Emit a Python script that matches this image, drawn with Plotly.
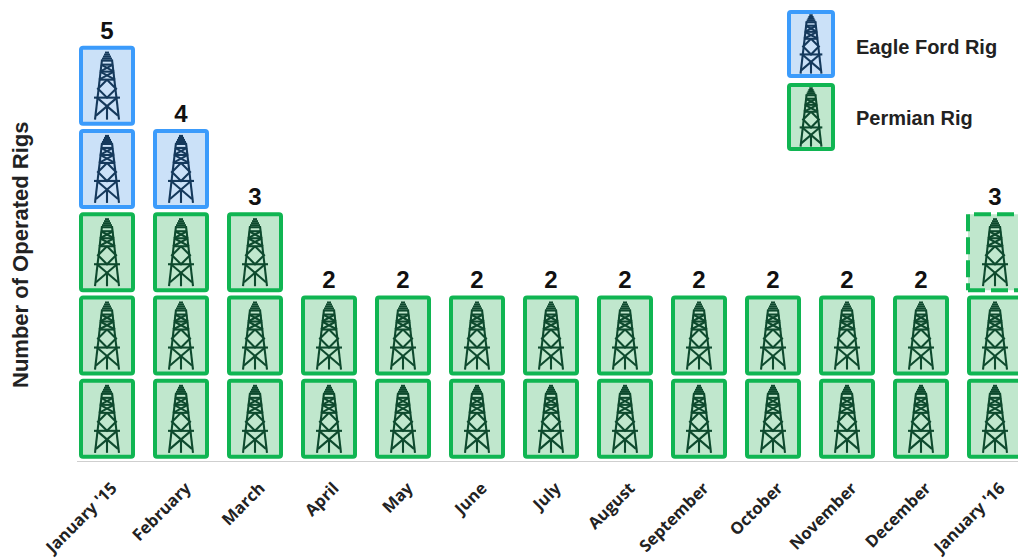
import plotly.graph_objects as go

months = ["January '15", "February", "March", "April", "May", "June", "July",
          "August", "September", "October", "November", "December", "January '16"]
permian_rigs = [3, 3, 3, 2, 2, 2, 2, 2, 2, 2, 2, 2, 2]
eagle_ford_rigs = [2, 1, 0, 0, 0, 0, 0, 0, 0, 0, 0, 0, 0]
projected_permian_rigs = [0, 0, 0, 0, 0, 0, 0, 0, 0, 0, 0, 0, 1]
legend_names = ["Eagle Ford Rig", "Permian Rig"]

BLUE, BLUE_FILL, BLUE_ICON = "#3b9bfb", "#cbe1f8", "#15395c"
GREEN, GREEN_FILL, GREEN_ICON = "#10b552", "#c0e7cd", "#0e4a2e"

PX_X, PX_Y = 74.0, 83.3
BOX_W, BOX_H, BOX_GAP = 52 / PX_X, 76 / PX_Y, 0.05

# derrick drawn as polylines: offsets from the box centre, in pixels, y downwards
DERRICK = [
    [(-2, -33), (2, -33)], [(-3, -31), (3, -31)], [(-4, -29), (4, -29)],
    [(-5, -27), (5, -27)], [(-6, -25), (6, -25)],
    [(-5, -26), (-12, 34)], [(5, -26), (12, 34)],
    [(-6, -21), (6, -21)], [(-7, -14), (7, -14)], [(-8, -6), (8, -6)],
    [(-6, -21), (7, -14)], [(6, -21), (-7, -14)],
    [(-7, -14), (8, -6)], [(7, -14), (-8, -6)],
    [(-13, 12), (13, 12)],
    [(0, -6), (9, 3), (0, 12), (-9, 3), (0, -6)],
    [(-10, 12), (11, 30)], [(10, 12), (-11, 30)], [(0, 20), (0, 34)],
]


def derrick_xy(cx, cy, scale=1.0):
    xs, ys = [], []
    for seg in DERRICK:
        for dx, dy in seg:
            xs.append(cx + dx * scale / PX_X)
            ys.append(cy - dy * scale / PX_Y)
        xs.append(None)
        ys.append(None)
    return xs, ys


fig = go.Figure()
permian_x, permian_base, eagle_x, eagle_base = [], [], [], []
icons = {GREEN_ICON: ([], []), BLUE_ICON: ([], [])}


def add_icon(color, cx, cy, scale=1.0):
    xs, ys = derrick_xy(cx, cy, scale)
    icons[color][0].extend(xs)
    icons[color][1].extend(ys)


for i, (p, e, d) in enumerate(zip(permian_rigs, eagle_ford_rigs, projected_permian_rigs)):
    for level in range(p):
        permian_x.append(i)
        permian_base.append(level + BOX_GAP)
        add_icon(GREEN_ICON, i, level + BOX_GAP + BOX_H / 2)
    for level in range(p, p + e):
        eagle_x.append(i)
        eagle_base.append(level + BOX_GAP)
        add_icon(BLUE_ICON, i, level + BOX_GAP + BOX_H / 2)
    for level in range(p + e, p + e + d):
        x0, x1 = i - 54 / PX_X / 2, i + 54 / PX_X / 2
        y0, y1 = level + BOX_GAP, level + BOX_GAP + BOX_H
        fig.add_trace(go.Scatter(
            x=[x0, x1, x1, x0, x0], y=[y0, y0, y1, y1, y0], mode="lines",
            fill="toself", fillcolor=GREEN_FILL,
            line=dict(color=GREEN, width=4, dash="17px,6px"),
            showlegend=False, hoverinfo="skip"))
        add_icon(GREEN_ICON, i, level + BOX_GAP + BOX_H / 2)


def add_boxes(xs, bases, fill, edge, w=BOX_W, h=BOX_H):
    fig.add_trace(go.Bar(
        x=xs, y=[h] * len(xs), base=bases, width=w,
        marker=dict(color=fill, line=dict(color=edge, width=4), cornerradius=2),
        showlegend=False, hoverinfo="skip"))


add_boxes(permian_x, permian_base, GREEN_FILL, GREEN)
add_boxes(eagle_x, eagle_base, BLUE_FILL, BLUE)

# key in the upper right
KEY_X = (811 - 107) / PX_X
KEY_W, KEY_H = 44 / PX_X, 64 / PX_Y
KEY_Y = [(461 - 44) / PX_Y, (461 - 117) / PX_Y]
add_boxes([KEY_X], [KEY_Y[0] - KEY_H / 2], BLUE_FILL, BLUE, KEY_W, KEY_H)
add_boxes([KEY_X], [KEY_Y[1] - KEY_H / 2], GREEN_FILL, GREEN, KEY_W, KEY_H)
add_icon(BLUE_ICON, KEY_X, KEY_Y[0], 0.87)
add_icon(GREEN_ICON, KEY_X, KEY_Y[1], 0.87)

for color, (xs, ys) in icons.items():
    fig.add_trace(go.Scatter(x=xs, y=ys, mode="lines", connectgaps=False,
                             line=dict(color=color, width=2.1),
                             showlegend=False, hoverinfo="skip"))

totals = [p + e + d for p, e, d in zip(permian_rigs, eagle_ford_rigs, projected_permian_rigs)]
fig.add_trace(go.Scatter(
    x=list(range(len(months))), y=totals, mode="text", text=[str(t) for t in totals],
    textposition="top center",
    textfont=dict(family="Liberation Sans", size=24, color="#111111", weight=700),
    showlegend=False, hoverinfo="skip"))

for name, y, nudge in zip(legend_names, KEY_Y, [3, 1]):
    fig.add_annotation(x=(854 - 107) / PX_X, y=y - nudge / PX_Y, text=name, showarrow=False,
                       xanchor="left", yanchor="middle",
                       font=dict(family="Liberation Sans", size=20, color="#222222", weight=700))

fig.add_annotation(xref="paper", yref="paper", x=-56 / 941, y=206 / 461, text="Number of Operated Rigs",
                   textangle=-90, showarrow=False, xanchor="center", yanchor="middle",
                   font=dict(family="Liberation Sans", size=22, color="#222222", weight=700))

fig.update_layout(
    width=1018, height=558, autosize=False, barmode="overlay",
    margin=dict(l=77, r=0, t=0, b=97, autoexpand=False), paper_bgcolor="white", plot_bgcolor="white",
    xaxis=dict(range=[(77 - 107) / PX_X, (1018 - 107) / PX_X], tickmode="array", automargin=False,
               tickvals=list(range(len(months))), ticktext=months, tickangle=-45,
               tickfont=dict(family="Open Sans", size=16.5, color="#222222", weight=700),
               ticklabelstandoff=10, ticklabelshift=5,
               showgrid=False, zeroline=False, showline=True, linecolor="#cfcfcf", linewidth=1,
               ticks="", fixedrange=True),
    yaxis=dict(range=[0, 461 / PX_Y], showgrid=False, zeroline=False, showline=False, automargin=False,
               showticklabels=False, ticks="", fixedrange=True),
)

fig.write_html("out.html", config={"displayModeBar": False},
               post_script="document.body.style.margin='0';document.documentElement.style.overflow='hidden';")
